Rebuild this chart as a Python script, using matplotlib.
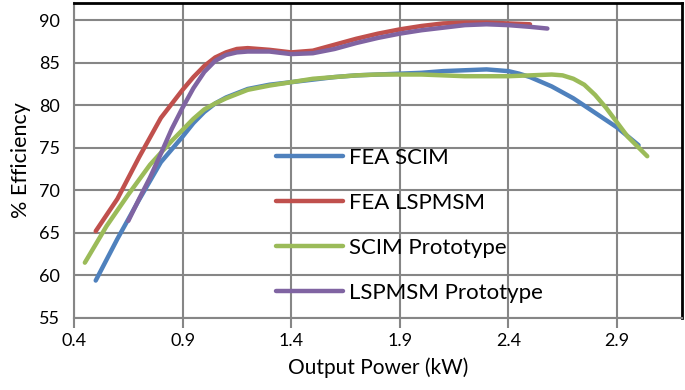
import matplotlib
matplotlib.use("Agg")
import matplotlib.pyplot as plt

plt.rcParams['font.family'] = ['Lato', 'DejaVu Sans']

# FEA SCIM (blue)
fea_scim_x = [0.5, 0.6, 0.7, 0.8, 0.9, 0.95, 1.0, 1.05, 1.1, 1.2, 1.3, 1.4, 1.5, 1.6, 1.7, 1.8,
              1.9, 2.0, 2.1, 2.2, 2.3, 2.4, 2.45, 2.5, 2.6, 2.7, 2.8, 2.9, 3.0]
fea_scim_y = [59.4, 64.3, 68.9, 73.3, 76.3, 77.9, 79.2, 80.2, 80.9, 81.9, 82.4, 82.7, 83.0, 83.3, 83.5, 83.6,
              83.7, 83.8, 84.0, 84.1, 84.2, 84.0, 83.7, 83.3, 82.2, 80.8, 79.1, 77.4, 75.3]

# FEA LSPMSM (red)
fea_lsp_x = [0.5, 0.6, 0.7, 0.8, 0.9, 0.95, 1.0, 1.05, 1.1, 1.15, 1.2, 1.3, 1.4, 1.5, 1.6, 1.7, 1.8,
             1.9, 2.0, 2.1, 2.2, 2.3, 2.4, 2.5]
fea_lsp_y = [65.2, 69.0, 73.9, 78.5, 81.8, 83.3, 84.6, 85.6, 86.2, 86.6, 86.7, 86.5, 86.2, 86.4, 87.1, 87.8, 88.4,
             88.9, 89.3, 89.6, 89.7, 89.7, 89.6, 89.5]

# SCIM Prototype (green)
scim_proto_x = [0.45, 0.55, 0.65, 0.75, 0.85, 0.9, 0.95, 1.0, 1.05, 1.1, 1.2, 1.3, 1.4, 1.5, 1.6, 1.7, 1.8,
                1.9, 2.0, 2.1, 2.2, 2.3, 2.4, 2.5, 2.6, 2.65, 2.7, 2.75, 2.8, 2.85, 2.9, 2.95, 3.04]
scim_proto_y = [61.5, 65.8, 69.5, 73.0, 75.8, 77.1, 78.4, 79.5, 80.2, 80.8, 81.8, 82.3, 82.7, 83.1, 83.3, 83.5, 83.6,
                83.6, 83.6, 83.5, 83.4, 83.4, 83.4, 83.5, 83.6, 83.5, 83.1, 82.4, 81.2, 79.7, 78.0, 76.3, 74.0]

# LSPMSM Prototype (purple)
lsp_proto_x = [0.65, 0.7, 0.75, 0.8, 0.85, 0.9, 0.95, 1.0, 1.05, 1.1, 1.15, 1.2, 1.3, 1.4, 1.5, 1.6,
               1.7, 1.8, 1.9, 2.0, 2.1, 2.2, 2.3, 2.4, 2.5, 2.58]
lsp_proto_y = [66.4, 69.0, 71.5, 74.3, 77.2, 79.7, 82.0, 83.9, 85.2, 85.9, 86.2, 86.3, 86.3, 86.0, 86.1, 86.6,
               87.3, 87.9, 88.4, 88.8, 89.1, 89.4, 89.5, 89.4, 89.2, 89.0]

x_ticks = [0.4, 0.9, 1.4, 1.9, 2.4, 2.9]
y_ticks = [55, 60, 65, 70, 75, 80, 85, 90]

fig = plt.figure(figsize=(6.85, 3.9), dpi=100)
ax = fig.add_axes([74 / 685, 1 - 318 / 390, 608 / 685, 315 / 390])

lw = 3.2
ax.plot(fea_scim_x, fea_scim_y, color='#4F81BD', lw=lw, solid_capstyle='round', label='FEA SCIM')
ax.plot(fea_lsp_x, fea_lsp_y, color='#C0504D', lw=lw, solid_capstyle='round', label='FEA LSPMSM')
ax.plot(scim_proto_x, scim_proto_y, color='#9BBB59', lw=lw, solid_capstyle='round', label='SCIM Prototype')
ax.plot(lsp_proto_x, lsp_proto_y, color='#8064A2', lw=lw, solid_capstyle='round', label='LSPMSM Prototype')

ax.set_xlim(0.4, 3.2)
ax.set_ylim(55, 92)
ax.set_xticks(x_ticks)
ax.set_xticklabels([f'{v:.1f}' for v in x_ticks])
ax.set_yticks(y_ticks)
ax.grid(True, color='#868686', lw=1.5)
ax.set_axisbelow(True)

for side in ['left', 'bottom']:
    ax.spines[side].set_color('#868686')
    ax.spines[side].set_linewidth(1.5)
for side in ['top', 'right']:
    ax.spines[side].set_color('black')
    ax.spines[side].set_linewidth(2)

ax.tick_params(axis='x', length=7, width=1.5, color='#868686', labelsize=13, pad=4)
ax.tick_params(axis='y', length=0, labelsize=13, pad=10)

ax.set_xlabel('Output Power (kW)', fontsize=15, labelpad=6)
ax.set_ylabel('% Efficiency', fontsize=15.5, labelpad=6)

leg = ax.legend(loc='upper left', bbox_to_anchor=(276 / 685, 1 - 148 / 390),
                bbox_transform=fig.transFigure, frameon=False, fontsize=16,
                handlelength=3.0, handletextpad=0.3, labelspacing=1.12, borderpad=0,
                borderaxespad=0)

fig.savefig('out.png', dpi=100)
